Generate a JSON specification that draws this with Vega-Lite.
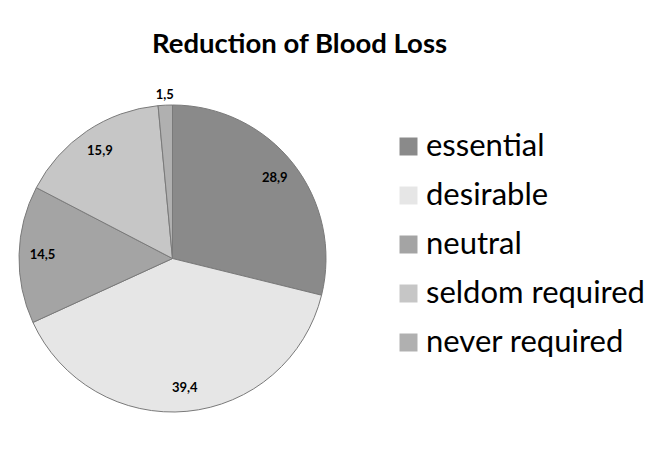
{
  "$schema": "https://vega.github.io/schema/vega-lite/v6.json",
  "autosize": "none",
  "width": 307,
  "height": 307,
  "padding": {"left": 19, "top": 105, "right": 336, "bottom": 37},
  "background": "white",
  "title": {
    "text": "Reduction of Blood Loss",
    "font": "Lato",
    "fontWeight": "bold",
    "fontSize": 27.5,
    "color": "#000000",
    "anchor": "middle",
    "frame": "group",
    "baseline": "alphabetic",
    "offset": 8,
    "dx": 127
  },
  "data": {
    "values": [
      {"category": "essential", "value": 28.9, "label": "28,9", "idx": 1},
      {"category": "desirable", "value": 39.4, "label": "39,4", "idx": 2},
      {"category": "neutral", "value": 14.5, "label": "14,5", "idx": 3},
      {"category": "seldom required", "value": 15.9, "label": "15,9", "idx": 4},
      {"category": "never required", "value": 1.5, "label": "1,5", "idx": 5}
    ]
  },
  "encoding": {
    "theta": {"field": "value", "type": "quantitative", "stack": true},
    "order": {"field": "idx", "type": "quantitative"}
  },
  "layer": [
    {
      "mark": {"type": "arc", "stroke": "#7a7a7a", "strokeWidth": 1},
      "encoding": {
        "color": {
          "field": "category",
          "type": "nominal",
          "sort": ["essential", "desirable", "neutral", "seldom required", "never required"],
          "scale": {
            "domain": ["essential", "desirable", "neutral", "seldom required", "never required"],
            "range": ["#8a8a8a", "#e6e6e6", "#a4a4a4", "#c6c6c6", "#b0b0b0"]
          },
          "legend": {
            "title": null,
            "orient": "none",
            "legendX": 374,
            "legendY": 26,
            "padding": 0,
            "symbolType": "square",
            "symbolSize": 324,
            "symbolStrokeWidth": 0,
            "labelFont": "Lato",
            "labelFontSize": 31,
            "labelColor": "#000000",
            "labelOffset": 2,
            "labelLimit": 400,
            "rowPadding": 17
          }
        }
      }
    },
    {
      "mark": {"type": "text", "font": "Lato", "fontWeight": "bold", "fontSize": 13, "color": "#000000", "radius": 130},
      "encoding": {
        "text": {"condition": {"test": "datum.value >= 2", "field": "label"}, "value": ""}
      }
    },
    {
      "mark": {"type": "text", "font": "Lato", "fontWeight": "bold", "fontSize": 13, "color": "#000000", "radius": 164},
      "encoding": {
        "text": {"condition": {"test": "datum.value < 2", "field": "label"}, "value": ""}
      }
    }
  ]
}
